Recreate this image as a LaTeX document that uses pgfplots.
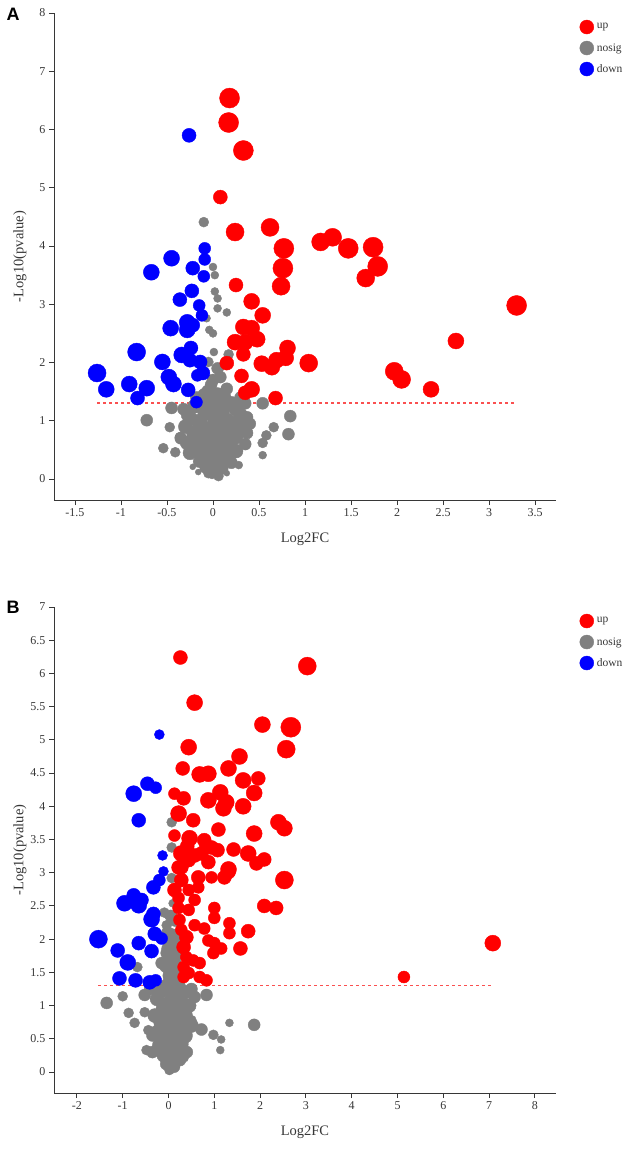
\documentclass[border=0pt]{standalone}
\usepackage{pgfplots}
\pgfplotsset{compat=1.18}
\usepackage{pgfplotstable}
\usepackage{fontspec}
\setmainfont{Liberation Serif}
\newfontfamily\labelfont{Liberation Sans}

\definecolor{upred}{RGB}{255,0,0}
\definecolor{nsgray}{RGB}{128,128,128}
\definecolor{dnblue}{RGB}{0,0,255}
\definecolor{cutred}{RGB}{250,80,80}
\definecolor{axgray}{RGB}{55,55,55}

% ---- panel A ----
\pgfplotstableread{
x y r
0.18 6.54 10
0.17 6.12 10
0.33 5.64 10
0.08 4.84 7
0.24 4.24 9
0.62 4.32 9
0.77 3.96 10
0.76 3.62 10
0.74 3.31 9
0.25 3.33 7
1.17 4.07 9
1.30 4.15 9
1.47 3.96 10
1.74 3.98 10
1.79 3.65 10
1.66 3.45 9
0.42 3.05 8
0.54 2.81 8
0.33 2.61 8
0.42 2.59 8
0.48 2.40 8
0.24 2.35 8
0.35 2.35 8
0.33 2.14 7
0.15 1.99 7
0.53 1.98 8
0.64 1.92 8
0.69 2.04 8
0.79 2.08 8
0.81 2.25 8
1.04 1.99 9
0.31 1.77 7
0.42 1.54 8
0.35 1.48 7
0.68 1.39 7
3.30 2.98 10
2.64 2.37 8
1.97 1.85 9
2.05 1.71 9
2.37 1.54 8
}\Aup

\pgfplotstableread{
x y r
-0.26 5.90 7
-0.09 3.96 6
-0.45 3.79 8
-0.67 3.55 8
-0.22 3.62 7
-0.09 3.77 6
-0.10 3.48 6
-0.23 3.23 7
-0.36 3.08 7
-0.15 2.98 6
-0.12 2.81 6
-0.46 2.59 8
-0.28 2.69 8
-0.28 2.56 8
-0.22 2.64 7
-0.83 2.18 9
-0.55 2.01 8
-0.34 2.13 8
-0.24 2.25 7
-0.25 2.04 7
-0.14 2.01 7
-0.11 1.82 7
-0.17 1.78 6
-1.26 1.82 9
-1.16 1.54 8
-0.91 1.63 8
-0.72 1.56 8
-0.82 1.39 7
-0.48 1.75 8
-0.43 1.63 8
-0.27 1.53 7
-0.18 1.32 6
}\Adown

\pgfplotstableread{
x y r
-0.10 4.41 5
0.00 3.64 4
0.02 3.50 4
0.02 3.22 4
0.05 3.10 4
0.05 2.93 4
0.15 2.86 4
-0.07 2.76 4
-0.04 2.56 4
0.00 2.50 4
0.01 2.18 4
0.17 2.14 5
-0.05 2.01 5
0.05 1.90 6
0.00 1.70 6
-0.72 1.01 6
-0.54 0.53 5
-0.45 1.22 6
-0.47 0.89 5
-0.36 0.72 5
-0.41 0.46 5
-0.27 1.10 7
0.35 1.30 6
0.54 1.30 6
0.37 1.06 6
0.37 0.79 6
0.54 0.62 5
0.58 0.75 5
0.66 0.89 5
0.54 0.41 4
0.84 1.08 6
0.82 0.77 6
0.28 0.24 4
0.15 0.10 3
-0.16 0.12 3
-0.22 0.21 3
-0.01 0.07 4
-0.05 1.50 7
0.05 1.45 7
0.12 1.40 7
-0.12 1.35 7
0.20 1.30 7
0.00 1.30 8
-0.20 1.25 7
0.10 1.20 8
0.25 1.20 7
-0.08 1.15 8
0.30 1.10 7
0.02 1.05 8
-0.25 1.05 7
0.15 1.00 8
-0.15 0.98 8
0.22 0.92 7
0.05 0.90 8
-0.05 0.85 8
-0.30 0.90 7
0.30 0.85 7
0.12 0.80 8
-0.20 0.78 8
0.00 0.75 8
0.25 0.72 7
0.08 0.68 8
-0.10 0.65 8
-0.28 0.62 7
0.18 0.62 8
0.35 0.60 6
0.02 0.58 8
-0.18 0.55 8
0.12 0.52 8
-0.05 0.48 8
0.25 0.48 7
-0.25 0.45 7
0.05 0.42 8
-0.12 0.40 7
0.15 0.38 7
-0.02 0.35 7
0.08 0.30 7
-0.15 0.30 6
0.20 0.28 6
0.00 0.25 7
-0.08 0.20 6
0.10 0.18 6
0.03 0.12 5
-0.05 0.10 5
0.06 0.05 5
-0.35 0.70 6
0.40 0.95 6
-0.02 1.62 6
0.08 1.75 6
-0.10 1.45 6
0.15 1.55 6
0.30 1.40 6
-0.32 1.20 6
0.28 1.00 7
-0.18 1.40 6
0.10 1.35 7
}\Ans

% ---- panel B ----
\pgfplotstableread{
x y r
0.26 6.24 7
3.03 6.11 9
0.57 5.56 8
2.05 5.23 8
2.67 5.19 10
2.57 4.86 9
0.44 4.89 8
0.31 4.57 7
0.68 4.48 8
0.87 4.49 8
1.31 4.57 8
1.55 4.75 8
1.63 4.39 8
1.96 4.42 7
1.87 4.20 8
1.13 4.21 8
1.26 4.06 8
0.87 4.09 8
0.33 4.12 7
0.13 4.19 6
1.20 3.97 8
1.63 4.00 8
0.22 3.89 8
0.54 3.79 7
1.09 3.65 7
0.13 3.56 6
1.87 3.59 8
2.40 3.76 8
2.53 3.67 8
0.46 3.52 8
0.78 3.49 7
0.94 3.38 7
1.07 3.34 7
1.42 3.35 7
1.74 3.29 8
2.09 3.20 7
1.92 3.14 7
0.28 3.29 8
0.57 3.26 7
0.87 3.16 7
0.28 3.08 7
0.41 3.40 7
0.83 3.40 7
1.31 3.05 8
2.53 2.89 9
2.09 2.50 7
2.35 2.47 7
1.74 2.12 7
1.57 1.86 7
1.33 2.24 6
1.33 2.09 6
1.15 1.86 6
0.98 1.79 6
1.00 1.94 6
1.00 2.47 6
1.00 2.32 6
0.78 2.16 6
0.87 1.98 6
0.57 2.21 6
0.39 2.03 7
0.33 1.88 7
0.39 1.73 6
0.54 1.68 6
0.68 1.64 6
0.44 1.49 6
0.68 1.43 6
0.83 1.38 6
0.33 1.43 6
0.24 2.29 6
0.44 2.44 6
0.57 2.59 6
0.22 2.62 6
0.44 2.74 6
0.65 2.78 6
0.13 2.74 7
0.28 2.89 7
0.65 2.93 7
0.94 2.93 6
1.31 3.01 7
1.22 2.93 7
0.22 3.08 7
0.44 3.19 7
0.72 3.29 7
0.22 2.47 6
0.28 2.14 6
0.33 1.58 6
5.14 1.43 6
7.08 1.94 8
}\Bup

\pgfplotstableread{
x y r
-0.20 5.08 5
-0.76 4.19 8
-0.46 4.34 7
-0.28 4.28 6
-0.65 3.79 7
-0.13 3.26 5
-0.11 3.02 5
-0.20 2.89 6
-0.33 2.78 7
-0.96 2.54 8
-0.76 2.66 7
-0.65 2.51 8
-0.59 2.59 7
-0.37 2.30 8
-0.33 2.38 7
-1.53 2.00 9
-1.11 1.83 7
-0.65 1.94 7
-0.37 1.82 7
-0.30 2.08 7
-0.15 2.01 6
-0.89 1.65 8
-1.07 1.41 7
-0.72 1.38 7
-0.41 1.35 7
-0.28 1.38 6
}\Bdown

\pgfplotstableread{
x y r
0.07 3.76 5
0.07 3.38 5
0.07 2.92 5
0.09 2.54 4
-0.09 2.40 5
-0.04 2.21 5
0.07 2.09 5
0.02 1.94 5
-0.04 1.79 6
0.07 1.71 7
-0.15 1.64 6
0.07 1.53 6
0.07 1.41 6
-0.68 1.58 5
-1.35 1.04 6
-1.00 1.14 5
-0.87 0.89 5
-0.74 0.74 5
-0.52 0.90 5
-0.44 0.63 5
-0.48 0.33 5
-0.52 1.16 6
0.83 1.16 6
0.57 1.13 6
0.72 0.64 6
0.50 0.78 5
0.98 0.56 5
1.15 0.49 4
1.13 0.33 4
1.33 0.74 4
1.87 0.71 6
0.39 0.33 4
0.35 0.21 4
0.00 1.30 8
0.20 1.28 8
-0.15 1.22 7
0.35 1.20 7
0.10 1.15 8
-0.25 1.10 7
0.25 1.05 8
0.00 1.02 8
0.45 1.00 7
-0.10 0.95 8
0.15 0.90 8
0.35 0.85 8
-0.30 0.85 7
0.05 0.80 8
-0.15 0.75 8
0.25 0.72 8
0.50 0.70 7
0.00 0.65 8
0.15 0.60 8
-0.25 0.60 7
0.35 0.55 8
-0.08 0.50 8
0.10 0.45 8
0.28 0.42 7
-0.20 0.40 7
0.00 0.35 8
0.18 0.30 7
-0.10 0.25 7
0.08 0.20 7
0.25 0.18 6
-0.05 0.12 6
0.12 0.08 6
0.02 0.03 5
0.40 0.30 6
-0.35 0.30 6
0.05 1.45 8
0.20 1.50 7
-0.05 1.60 7
0.10 1.65 8
0.22 1.80 7
0.00 1.85 7
0.12 1.95 7
0.20 2.05 7
-0.02 2.10 6
0.15 2.28 6
0.05 2.35 6
-0.40 1.25 6
0.50 1.25 6
-0.35 0.55 6
}\Bns

\pgfplotsset{
  volcano/.style={
    scale only axis,
    width=502pt,
    axis lines=left,
    axis line style={-, axgray, line width=0.9pt},
    tick align=outside,
    major tick length=5pt,
    tick style={axgray, line width=0.9pt},
    ticklabel style={font=\fontsize{12}{12}\selectfont, text=axgray},
    /pgf/number format/assume math mode=true,
    xlabel={Log2FC},
    ylabel={-Log10(pvalue)},
    label style={font=\fontsize{14.5}{14.5}\selectfont, text=axgray},
    xlabel style={at={(axis description cs:0.5,-0.08)}, anchor=center},
    ylabel style={at={(axis description cs:-0.0677,0.5)}, anchor=center},
    legend style={at={(axis description cs:1.047,0.986)}, anchor=north west,
      draw=none, fill=none, font=\fontsize{11.5}{11.5}\selectfont, text=axgray,
      row sep=7pt, inner sep=0pt, column sep=1pt},
    legend cell align=left,
  },
  pts/.style={scatter, only marks, mark=*,
    scatter/use mapped color={draw=#1, fill=#1},
    visualization depends on={\thisrow{r} \as \rad},
    scatter/@pre marker code/.append style={/tikz/mark size=\rad}},
}

\begin{document}
\begin{tikzpicture}
\useasboundingbox (0,0) rectangle (630pt,-1149pt);

\node[font=\labelfont\bfseries\fontsize{18}{18}\selectfont, anchor=center] at (13pt,-14pt) {A};
\node[font=\labelfont\bfseries\fontsize{18}{18}\selectfont, anchor=center] at (13pt,-607pt) {B};

\begin{axis}[volcano,
  at={(54pt,-500pt)}, anchor=south west,
  height=487pt,
  xmin=-1.728, xmax=3.728, ymin=-0.36, ymax=8,
  xtick={-1.5,-1,...,3.5}, ytick={0,1,...,8}]
\addlegendimage{only marks, mark=*, mark size=7pt, upred}
\addlegendentry{up}
\addlegendimage{only marks, mark=*, mark size=7pt, nsgray}
\addlegendentry{nosig}
\addlegendimage{only marks, mark=*, mark size=7pt, dnblue}
\addlegendentry{down}
\addplot[pts=nsgray, forget plot] table[x=x, y=y] {\Ans};
\addplot[pts=upred, forget plot] table[x=x, y=y] {\Aup};
\addplot[pts=dnblue, forget plot] table[x=x, y=y] {\Adown};
\addplot[color=cutred, solid, no marks, line width=1.5pt, dash pattern=on 3pt off 3pt, forget plot]
  coordinates {(-1.26,1.301) (3.30,1.301)};
\end{axis}

\begin{axis}[volcano,
  at={(54pt,-1093pt)}, anchor=south west,
  height=486pt,
  xmin=-2.5, xmax=8.46, ymin=-0.316, ymax=7,
  xtick={-2,-1,...,8}, ytick={0,0.5,...,7}]
\addlegendimage{only marks, mark=*, mark size=7pt, upred}
\addlegendentry{up}
\addlegendimage{only marks, mark=*, mark size=7pt, nsgray}
\addlegendentry{nosig}
\addlegendimage{only marks, mark=*, mark size=7pt, dnblue}
\addlegendentry{down}
\addplot[pts=nsgray, forget plot] table[x=x, y=y] {\Bns};
\addplot[pts=upred, forget plot] table[x=x, y=y] {\Bup};
\addplot[pts=dnblue, forget plot] table[x=x, y=y] {\Bdown};
\addplot[color=cutred, solid, no marks, line width=1.5pt, dash pattern=on 3pt off 3pt, forget plot]
  coordinates {(-1.53,1.301) (7.08,1.301)};
\end{axis}
\end{tikzpicture}
\end{document}
